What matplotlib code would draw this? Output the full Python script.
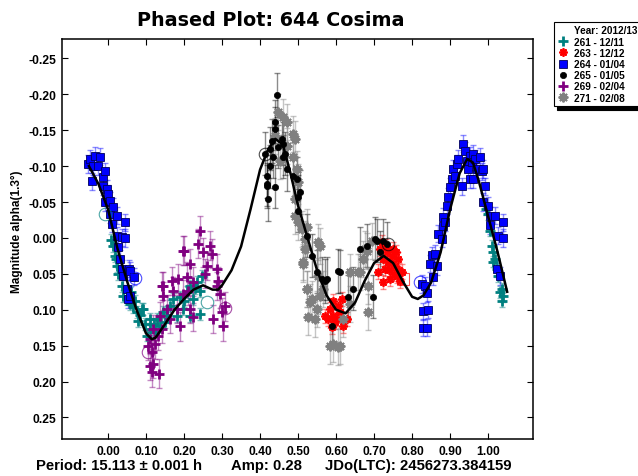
import matplotlib
matplotlib.use("Agg")
import matplotlib.pyplot as plt
from matplotlib.lines import Line2D

plt.rcParams['font.family'] = ['Liberation Sans', 'DejaVu Sans']
plt.rcParams['font.weight'] = 'bold'
plt.rcParams['axes.unicode_minus'] = False

# ---- data (phase, reduced magnitude) ----
# 261 - 12/11
ph_261 = [0.008, 0.013, 0.018, 0.020, 0.024, 0.026, 0.037, 0.039, 0.050, 0.058, 0.060, 0.066,
          0.070, 0.076, 0.079, 0.085, 0.089, 0.092, 0.097, 0.103, 0.111, 0.111, 0.120, 0.124,
          0.129, 0.137, 0.145, 0.150, 0.155, 0.163, 0.171, 0.182, 0.189, 0.197, 0.200, 0.208,
          0.216, 0.216, 0.224, 0.230, 0.234, 0.242, 0.242, 0.247,
          0.995, 1.000, 1.005, 1.010, 1.013, 1.013, 1.018, 1.024, 1.026, 1.032, 1.037, 1.037, 1.039]
mag_261 = [0.003, 0.011, 0.025, 0.030, 0.039, 0.050, 0.067, 0.081, 0.085, 0.092, 0.075, 0.096,
           0.088, 0.103, 0.116, 0.108, 0.099, 0.099, 0.120, 0.136, 0.127, 0.113, 0.120, 0.131,
           0.113, 0.123, 0.103, 0.117, 0.108, 0.095, 0.085, 0.109, 0.082, 0.099, 0.088, 0.075,
           0.067, 0.109, 0.085, 0.070, 0.061, 0.074, 0.106, 0.053,
           -0.040, -0.033, -0.010, 0.011, 0.020, 0.033, 0.029, 0.043, 0.053, 0.075, 0.071, 0.088, 0.081]

# 263 - 12/12
ph_263 = [0.571, 0.579, 0.584, 0.589, 0.592, 0.592, 0.597, 0.603, 0.605, 0.611, 0.616, 0.618, 0.629,
          0.711, 0.716, 0.721, 0.724, 0.724, 0.729, 0.730, 0.734, 0.737, 0.740, 0.742, 0.745, 0.747,
          0.750, 0.752, 0.755, 0.758, 0.761, 0.763, 0.765, 0.768, 0.774]
mag_263 = [0.109, 0.113, 0.099, 0.124, 0.109, 0.088, 0.117, 0.113, 0.095, 0.103, 0.085, 0.123, 0.113,
           0.047, 0.015, 0.006, 0.029, 0.061, 0.043, 0.012, 0.020, 0.033, 0.045, 0.057, 0.035, 0.025,
           0.015, 0.050, 0.039, 0.020, 0.053, 0.029, 0.045, 0.060, 0.047]

# 264 - 01/04
ph_264 = [-0.053, -0.047, -0.042, -0.039, -0.034, -0.026, -0.021, -0.013, -0.013, -0.008, -0.008,
          -0.003, 0.000, 0.005, 0.005, 0.011, 0.013, 0.024, 0.024, 0.026, 0.032, 0.037, 0.037,
          0.039, 0.045, 0.045, 0.050, 0.053, 0.055, 0.058, 0.058, 0.068,
          0.826, 0.829, 0.829, 0.834, 0.839, 0.839, 0.842, 0.847, 0.853, 0.855, 0.861, 0.866,
          0.868, 0.879, 0.882, 0.882, 0.887, 0.892, 0.895, 0.900, 0.905, 0.908, 0.913, 0.918,
          0.921, 0.932, 0.934, 0.939, 0.945, 0.947, 0.953, 0.953, 0.958, 0.961, 0.961, 0.966,
          0.971, 0.979, 0.984, 0.987, 0.987, 0.992, 1.000, 1.005, 1.005, 1.018, 1.024, 1.026,
          1.032, 1.039, 1.039]
mag_264 = [-0.103, -0.110, -0.079, -0.100, -0.114, -0.100, -0.113, -0.085, -0.072, -0.093, -0.050,
           -0.068, -0.061, -0.052, -0.033, -0.020, -0.043, -0.031, -0.003, 0.013, 0.029, -0.001, 0.043,
           0.053, -0.022, 0.000, 0.071, 0.085, 0.043, 0.046, 0.081, 0.054,
           0.064, 0.125, 0.102, 0.067, 0.125, 0.077, 0.100, 0.036, 0.024, 0.054, 0.022, 0.039,
           -0.006, 0.001, -0.017, -0.029, -0.022, -0.045, -0.057, -0.071, -0.082, -0.096, -0.086, -0.103,
           -0.110, -0.072, -0.131, -0.121, -0.107, -0.096, -0.082, -0.114, -0.106, -0.117, -0.082, -0.110,
           -0.096, -0.113, -0.093, -0.096, -0.050, -0.072, -0.045, -0.031, -0.018, -0.031, 0.043, -0.003,
           0.053, -0.022, 0.000]

# 265 - 01/05
ph_265 = [0.413, 0.418, 0.418, 0.418, 0.421, 0.426, 0.426, 0.432, 0.434, 0.439, 0.439, 0.439,
          0.445, 0.447, 0.458, 0.461, 0.461, 0.466, 0.471, 0.487, 0.497, 0.500, 0.500, 0.505,
          0.524, 0.537, 0.550, 0.563, 0.571, 0.576, 0.589, 0.605, 0.610, 0.632, 0.645, 0.663,
          0.682, 0.697, 0.703, 0.708, 0.716, 0.724, 0.734]
mag_265 = [-0.117, -0.086, -0.075, -0.072, -0.054, -0.124, -0.100, -0.135, -0.113, -0.152, -0.071, -0.162,
           -0.199, -0.127, -0.138, -0.113, -0.131, -0.117, -0.096, -0.086, -0.082, -0.057, -0.038, -0.064,
           -0.003, 0.025, 0.047, 0.057, 0.060, 0.057, 0.123, 0.046, 0.047, 0.082, 0.071, 0.015,
           0.011, 0.082, 0.001, 0.004, 0.020, 0.004, 0.008]

# 269 - 02/04
ph_269 = [0.105, 0.111, 0.111, 0.116, 0.116, 0.118, 0.118, 0.124, 0.132, 0.134, 0.137, 0.142, 0.142,
          0.145, 0.145, 0.155, 0.163, 0.168, 0.171, 0.182, 0.184, 0.189, 0.197, 0.197, 0.200,
          0.208, 0.211, 0.216, 0.216, 0.224, 0.224, 0.237, 0.242, 0.250, 0.255, 0.260, 0.268,
          0.274, 0.276, 0.287, 0.287, 0.289, 0.295, 0.300, 0.303, 0.308]
mag_269 = [0.150, 0.141, 0.178, 0.159, 0.187, 0.127, 0.175, 0.148, 0.136, 0.189, 0.109, 0.127, 0.067,
           0.081, 0.067, 0.099, 0.113, 0.060, 0.074, 0.099, 0.057, 0.123, 0.018, 0.078, 0.018,
           0.054, 0.074, 0.036, 0.099, 0.061, 0.110, 0.008, -0.010, 0.020, 0.050, 0.039, 0.011,
           0.022, 0.113, 0.043, 0.067, 0.060, 0.078, 0.103, 0.123, 0.095]

# 271 - 02/08
ph_271 = [0.439, 0.447, 0.453, 0.461, 0.471, 0.471, 0.487, 0.487, 0.492, 0.492, 0.492, 0.497,
          0.500, 0.500, 0.511, 0.513, 0.513, 0.518, 0.518, 0.524, 0.524, 0.524, 0.526, 0.532,
          0.537, 0.545, 0.550, 0.553, 0.553, 0.558, 0.558, 0.566, 0.584, 0.592, 0.605, 0.611,
          0.618, 0.637, 0.637, 0.658, 0.663, 0.671, 0.676, 0.682, 0.684, 0.684, 0.695]
mag_271 = [-0.142, -0.175, -0.107, -0.168, -0.162, -0.128, -0.145, -0.113, -0.138, -0.054, -0.031, -0.096,
           -0.078, -0.022, -0.013, 0.036, 0.033, 0.001, 0.015, -0.015, 0.071, 0.071, 0.110, 0.089,
           0.085, 0.113, 0.099, 0.006, 0.053, 0.011, 0.081, 0.071, 0.150, 0.148, 0.152, 0.150,
           0.113, 0.047, 0.092, 0.047, 0.047, 0.029, 0.015, 0.018, 0.103, 0.067, 0.004]

# typical error per session
err = {'261': 0.008, '263': 0.010, '264': 0.012, '265': 0.030, '269': 0.020, '271': 0.025}

# fourier fit curve
fit_ph = [-0.05, -0.025, 0.0, 0.025, 0.05, 0.075, 0.10, 0.115, 0.125, 0.15, 0.175, 0.20, 0.225,
          0.25, 0.275, 0.29, 0.30, 0.325, 0.35, 0.375, 0.40, 0.42, 0.44, 0.46, 0.48, 0.50, 0.525,
          0.55, 0.575, 0.60, 0.625, 0.65, 0.675, 0.70, 0.725, 0.75, 0.775, 0.80, 0.815, 0.83,
          0.85, 0.875, 0.90, 0.925, 0.945, 0.96, 0.975, 1.0, 1.025, 1.05]
fit_mag = [-0.10, -0.075, -0.04, 0.015, 0.06, 0.10, 0.133, 0.141, 0.139, 0.12, 0.10, 0.085, 0.072,
           0.066, 0.072, 0.072, 0.066, 0.045, 0.012, -0.04, -0.095, -0.122, -0.138, -0.13, -0.09, -0.045, 0.0,
           0.045, 0.08, 0.10, 0.105, 0.09, 0.06, 0.035, 0.025, 0.035, 0.06, 0.082, 0.085, 0.08,
           0.062, 0.02, -0.04, -0.09, -0.11, -0.105, -0.08, -0.03, 0.02, 0.075]

# first point of each session (open symbols)
open_ph = [-0.008, 0.071, 0.105, 0.260, 0.308, 0.413, 0.737, 0.776, 0.821]
open_mag = [-0.033, 0.056, 0.159, 0.089, 0.098, -0.117, 0.008, 0.057, 0.061]
open_sess = ['261', '264', '269', '261', '269', '265', '265', '263', '264']

sessions = ['261', '263', '264', '265', '269', '271']
labels = ['261 - 12/11', '263 - 12/12', '264 - 01/04', '265 - 01/05', '269 - 02/04', '271 - 02/08']
phases = [ph_261, ph_263, ph_264, ph_265, ph_269, ph_271]
mags = [mag_261, mag_263, mag_264, mag_265, mag_269, mag_271]

colors = {'261': '#008080', '263': '#ff0000', '264': '#0000ff',
          '265': '#000000', '269': '#800080', '271': '#808080'}
asterisk = (8, 2, 0)
styles = {
    '261': dict(marker='+', ms=7, mew=2.0),
    '263': dict(marker=asterisk, ms=6, mew=1.3),
    '264': dict(marker='s', ms=5.5, mew=0.6, mec='#00005a'),
    '265': dict(marker='o', ms=4.5, mew=0.5),
    '269': dict(marker='+', ms=7, mew=2.0),
    '271': dict(marker=asterisk, ms=7, mew=1.4),
}
zorders = {'261': 3, '263': 4, '264': 5, '269': 6, '271': 7, '265': 8}
open_marker = {'261': 'o', '263': 's', '264': 'o', '265': 'o', '269': 'o', '271': 's'}

fig = plt.figure(figsize=(6.38, 4.77), dpi=100)
ax = fig.add_axes([62 / 638, 1 - 440 / 477, 471 / 638, 400 / 477])

for s, x, y in zip(sessions, phases, mags):
    c = colors[s]
    ax.errorbar(x, y, yerr=err[s], fmt='none', ecolor=c, alpha=0.45,
                elinewidth=1.0, capsize=2.5, capthick=1.0, zorder=2)
for s, x, y in zip(sessions, phases, mags):
    st = dict(styles[s])
    mec = st.pop('mec', colors[s])
    ax.plot(x, y, ls='none', color=colors[s], mec=mec, zorder=zorders[s], **st)

# open symbols at the start of each session
for x, y, s in zip(open_ph, open_mag, open_sess):
    ax.plot(x, y, ls='none', marker=open_marker[s], ms=9, mfc='none',
            mec=colors[s], mew=0.8, alpha=0.7, zorder=9)

ax.plot(fit_ph, fit_mag, color='black', lw=1.8, zorder=10)

ax.set_xlim(-0.121, 1.118)
ax.set_ylim(0.280, -0.277)
ax.set_xticks([0.0, 0.1, 0.2, 0.3, 0.4, 0.5, 0.6, 0.7, 0.8, 0.9, 1.0])
ax.set_yticks([-0.25, -0.20, -0.15, -0.10, -0.05, 0.0, 0.05, 0.10, 0.15, 0.20, 0.25])
ax.xaxis.set_major_formatter(matplotlib.ticker.FormatStrFormatter('%.2f'))
ax.yaxis.set_major_formatter(matplotlib.ticker.FormatStrFormatter('%.2f'))
ax.tick_params(direction='in', length=4, width=0.8, top=True, right=True,
               labelsize=8.7, pad=4, colors='black')
for lab in ax.get_xticklabels() + ax.get_yticklabels():
    lab.set_fontweight('bold')
for sp in ax.spines.values():
    sp.set_linewidth(1.1)

fig.text(137 / 638, 1 - 20 / 477, 'Phased Plot: 644 Cosima', ha='left', va='center',
         fontsize=13.8, fontweight='bold', family=['DejaVu Sans'])
fig.text(17 / 638, 1 - 232 / 477, 'Magnitude alpha(1.3°)', rotation=90,
         ha='center', va='center', fontsize=8.5, fontweight='bold')

fig.text(36 / 638, 1 - 466 / 477, 'Period: 15.113 ± 0.001 h', ha='left', va='center',
         fontsize=10.7, fontweight='bold')
fig.text(231 / 638, 1 - 466 / 477, 'Amp: 0.28', ha='left', va='center',
         fontsize=10.7, fontweight='bold')
fig.text(325 / 638, 1 - 466 / 477, 'JDo(LTC): 2456273.384159', ha='left', va='center',
         fontsize=10.7, fontweight='bold')

# legend: first row is the year heading with an empty handle
handles = [Line2D([], [], ls='none')]
for s in sessions:
    st = dict(styles[s])
    mec = st.pop('mec', colors[s])
    handles.append(Line2D([], [], ls='none', color=colors[s], mec=mec, **st))
leg = fig.legend(handles, ['Year: 2012/13'] + labels, loc='upper left',
                 bbox_to_anchor=(554 / 638, 1 - 23 / 477), fontsize=7.2,
                 frameon=True, fancybox=False, framealpha=1.0,
                 shadow={'ox': 2.5, 'oy': -2.5, 'facecolor': 'black', 'edgecolor': 'black', 'alpha': 1.0},
                 borderpad=0.35, labelspacing=0.12, handlelength=1.1, handletextpad=0.5,
                 borderaxespad=0.0, edgecolor='black')
leg.get_frame().set_linewidth(0.8)
for t in leg.get_texts():
    t.set_fontweight('bold')

fig.savefig('out.png', dpi=100)
